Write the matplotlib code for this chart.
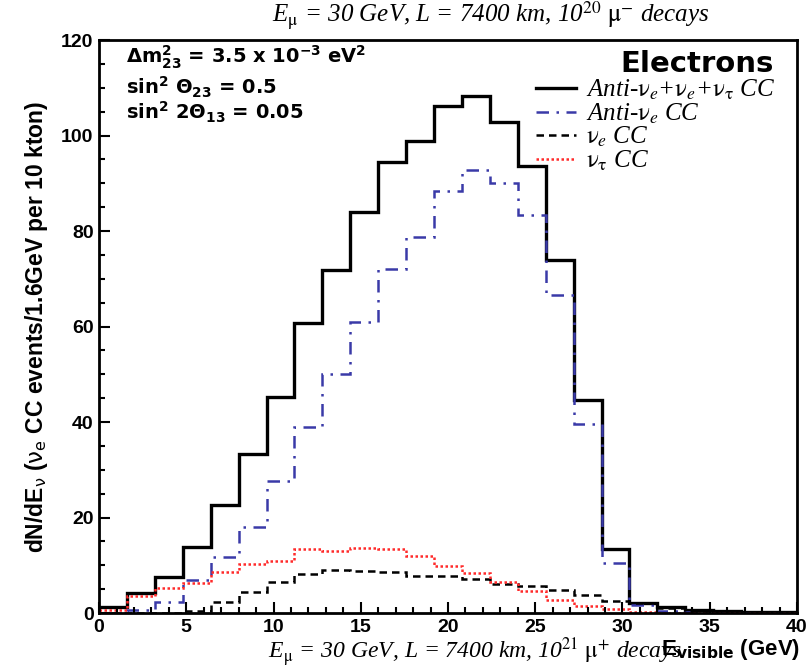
import numpy as np
import matplotlib
matplotlib.use("Agg")
import matplotlib.pyplot as plt
from matplotlib.font_manager import FontProperties
from matplotlib.ticker import MultipleLocator

# bins of 1.6 GeV from 0 to 40 GeV
bin_edges = np.linspace(0, 40, 26)

total = [1.3, 4.2, 7.6, 13.8, 22.6, 33.3, 45.2, 60.7, 71.8, 84.0, 94.4, 98.8, 106.2,
         108.3, 102.8, 93.6, 74.0, 44.6, 13.4, 2.2, 1.2, 0.7, 0.35, 0.3, 0.2]
anti_nue = [0.1, 0.7, 2.3, 7.0, 11.7, 18.1, 27.6, 39.0, 50.0, 61.0, 72.0, 78.7, 88.4,
            92.8, 90.0, 83.4, 66.6, 39.6, 10.5, 1.7, 0.4, 0.2, 0.1, 0.1, 0.1]
nue = [0.0, 0.0, 0.1, 0.4, 2.3, 4.5, 6.6, 8.2, 9.0, 8.8, 8.6, 7.7, 7.7,
       7.2, 6.1, 5.7, 4.8, 3.7, 2.6, 2.1, 1.0, 0.5, 0.2, 0.1, 0.1]
nutau = [0.6, 3.6, 5.3, 6.3, 8.6, 10.3, 10.8, 13.4, 13.0, 13.7, 13.4, 12.0, 9.8,
         8.4, 6.5, 4.6, 2.8, 1.4, 0.8, 0.3, 0.1, 0.0, 0.0, 0.0, 0.0]

labels = [r"Anti-$\mathrm{\nu}_e$+$\mathrm{\nu}_e$+$\mathrm{\nu}_\mathrm{\tau}$ CC",
          r"Anti-$\mathrm{\nu}_e$ CC",
          r"$\mathrm{\nu}_e$ CC",
          r"$\mathrm{\nu}_\mathrm{\tau}$ CC"]

fig = plt.figure(figsize=(8.12, 6.68), dpi=100)
ax = fig.add_axes([0.122, 0.0823, 0.8595, 0.8577])

h1 = ax.stairs(total, bin_edges, color="black", lw=2.4, baseline=None)
h2 = ax.stairs(anti_nue, bin_edges, color="#3a3aa8", lw=1.8, ls=(0, (5, 3, 1, 3)), baseline=None)
h3 = ax.stairs(nue, bin_edges, color="black", lw=1.8, ls=(0, (3, 2)), baseline=None)
h4 = ax.stairs(nutau, bin_edges, color="#ff2a2a", lw=1.8, ls=(0, (1, 1)), baseline=None)

ax.set_xlim(0, 40)
ax.set_ylim(0, 120)
ax.xaxis.set_major_locator(MultipleLocator(5))
ax.xaxis.set_minor_locator(MultipleLocator(1))
ax.yaxis.set_major_locator(MultipleLocator(20))
ax.yaxis.set_minor_locator(MultipleLocator(5))
ax.tick_params(which="both", direction="in", width=1.5, top=False, right=False)
ax.tick_params(which="major", length=8, labelsize=14, pad=4)
ax.tick_params(which="minor", length=4.5)
for lab in ax.get_xticklabels() + ax.get_yticklabels():
    lab.set_fontweight("bold")
    lab.set_family("Liberation Sans")
for s in ax.spines.values():
    s.set_linewidth(2)

ax.set_ylabel(r"dN/dE$_\mathrm{\nu}$ ($\mathrm{\nu}_\mathrm{e}$ CC events/1.6GeV per 10 kton)",
              fontsize=16.5, fontweight="bold", family="Liberation Sans",
              math_fontfamily="dejavusans", labelpad=8)

serif_it = dict(family="Liberation Serif", style="italic", math_fontfamily="stix")
fig.text(0.604, 0.977, r"E$_{\mathrm{\mu}}$ = 30 GeV, L = 7400 km, 10$^{20}$ $\mathrm{\mu}^{-}$ decays",
         ha="center", va="center", fontsize=18, **serif_it)
fig.text(0.585, 0.024, r"E$_{\mathrm{\mu}}$ = 30 GeV, L = 7400 km, 10$^{21}$ $\mathrm{\mu}^{+}$ decays",
         ha="center", va="center", fontsize=17, **serif_it)
fig.text(0.985, 0.028, r"E$_{\mathbf{visible}}$ (GeV)", ha="right", va="center",
         fontsize=16, fontweight="bold", family="Liberation Sans", math_fontfamily="dejavusans")

sans_b = dict(fontsize=14, fontweight="bold", family="DejaVu Sans",
              math_fontfamily="dejavusans", transform=ax.transAxes, va="center")
ax.text(0.038, 0.970, r"Δm$^{\mathbf{2}}_{\mathbf{23}}$ = 3.5 x 10$^{\mathbf{-3}}$ eV$^{\mathbf{2}}$", **sans_b)
ax.text(0.038, 0.918, r"sin$^{\mathbf{2}}$ Θ$_{\mathbf{23}}$ = 0.5", **sans_b)
ax.text(0.038, 0.873, r"sin$^{\mathbf{2}}$ 2Θ$_{\mathbf{13}}$ = 0.05", **sans_b)
ax.text(0.967, 0.958, "Electrons", ha="right", va="center", fontsize=21, fontweight="bold",
        family="DejaVu Sans", transform=ax.transAxes)

leg_font = FontProperties(family="Liberation Serif", style="italic", size=18, math_fontfamily="stix")
ax.legend([h1, h2, h3, h4], labels, loc="upper left", bbox_to_anchor=(0.612, 0.952),
          frameon=False, prop=leg_font, handlelength=1.6, handletextpad=0.4,
          labelspacing=-0.02, borderaxespad=0)

fig.savefig("out.png", dpi=100)
